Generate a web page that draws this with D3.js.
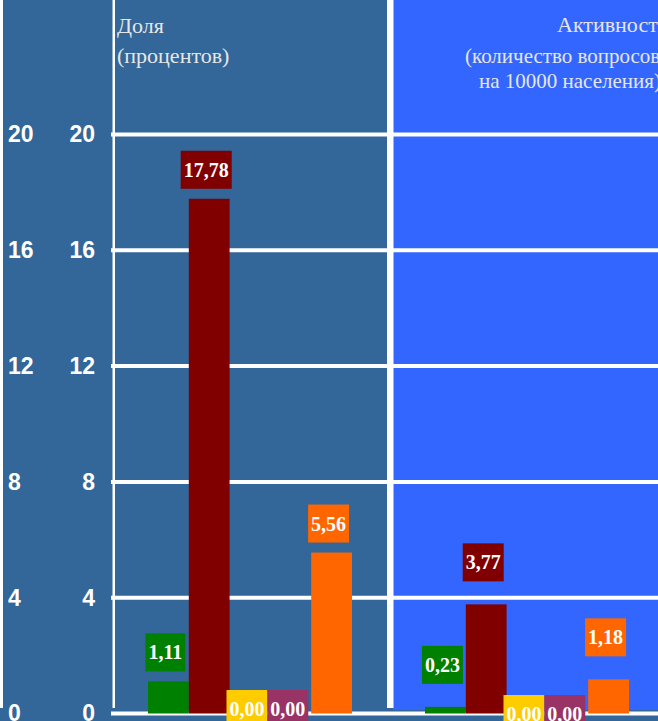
<!DOCTYPE html>
<html>
<head>
<meta charset="utf-8">
<script src="https://cdn.jsdelivr.net/npm/d3@7"></script>
<style>
  html, body { margin: 0; padding: 0; background: #336699; }
  svg { display: block; }
</style>
</head>
<body>
<script>
// ---- data ----
const categories = ["Категория 1", "Категория 2", "Категория 3", "Категория 4", "Категория 5"];
const shareValues = [1.11, 17.78, 0.00, 0.00, 5.56];
const activityValues = [0.23, 3.77, 0.00, 0.00, 1.18];
const yTicks = [0, 4, 8, 12, 16, 20];
const shareTitle = ["Доля", "(процентов)"];
const activityTitle = ["Активность", "(количество вопросов", "на 10000 населения)"];
const barColors = ["#008000", "#800000", "#FFCC00", "#993366", "#FF6600"];

// ---- layout ----
const W = 658, H = 721;
const svg = d3.select("body").append("svg").attr("width", W).attr("height", H);

const y = d3.scaleLinear().domain([0, 20]).range([713.5, 134.5]);
const color = d3.scaleOrdinal().domain(categories).range(barColors);
const locale = d3.formatLocale({decimal: ",", thousands: " ", grouping: [3], currency: ["", ""]});
const fmt = locale.format(".2f");

// backgrounds
svg.append("rect").attr("x", 0).attr("y", 0).attr("width", W).attr("height", H).attr("fill", "#336699");
svg.append("rect").attr("x", 393).attr("y", 0).attr("width", W - 393).attr("height", 710).attr("fill", "#3366FF");

// vertical white lines
svg.append("rect").attr("x", 0).attr("y", 0).attr("width", 3).attr("height", 708).attr("fill", "#fff");
svg.append("rect").attr("x", 112.5).attr("y", 0).attr("width", 2.5).attr("height", 708).attr("fill", "#fff");
svg.append("rect").attr("x", 387).attr("y", 0).attr("width", 6.5).attr("height", 708).attr("fill", "#fff");

// gridlines
svg.append("g").selectAll("line").data(yTicks).join("line")
  .attr("x1", 111).attr("x2", W)
  .attr("y1", d => y(d)).attr("y2", d => y(d))
  .attr("stroke", "#fff").attr("stroke-width", 4);

// panels
const panels = [
  {values: shareValues, range: [148, 352], gap: 10, zeroLift: 23.5},
  {values: activityValues, range: [425, 629], gap: 23, zeroLift: 18.5}
];

panels.forEach(p => {
  const x = d3.scaleBand().domain(categories).range(p.range).padding(0);
  const data = categories.map((c, i) => ({c, v: p.values[i]}));
  const g = svg.append("g");
  g.selectAll("rect.bar").data(data).join("rect").attr("class", "bar")
    .attr("x", d => x(d.c)).attr("width", x.bandwidth())
    .attr("y", d => y(d.v)).attr("height", d => y(0) - y(d.v))
    .attr("fill", d => color(d.c));

  const lab = g.selectAll("g.lab").data(data).join("g").attr("class", "lab");
  lab.each(function(d) {
    const el = d3.select(this);
    const cx = x(d.c) + x.bandwidth() / 2 - 3;
    const t = el.append("text")
      .attr("x", cx).attr("text-anchor", "middle")
      .attr("font-family", "'Liberation Serif', 'Times New Roman', serif")
      .attr("font-weight", "bold").attr("font-size", 20)
      .attr("fill", "#fff").text(fmt(d.v));
    const tw = t.node().getComputedTextLength();
    const boxH = 38;
    const top = d.v === 0 ? y(0) - p.zeroLift : y(d.v) - p.gap - boxH;
    el.insert("rect", "text")
      .attr("x", cx - tw / 2 - 3).attr("y", top)
      .attr("width", tw + 6).attr("height", boxH)
      .attr("fill", color(d.c));
    t.attr("y", top + boxH / 2 + 7);
  });
});

// axes (two columns of tick labels)
const axisA = d3.axisRight(y).tickValues(yTicks).tickSize(0).tickPadding(8).tickFormat(d3.format("d"));
const axisB = d3.axisLeft(y).tickValues(yTicks).tickSize(0).tickPadding(0).tickFormat(d3.format("d"));
[[axisA, 0], [axisB, 95]].forEach(([ax, tx]) => {
  const g = svg.append("g").attr("transform", `translate(${tx},0)`).call(ax);
  g.select(".domain").remove();
  g.selectAll("text")
    .attr("font-family", "'Liberation Sans', Arial, sans-serif")
    .attr("font-weight", "bold").attr("font-size", 23)
    .attr("fill", "#fff");
});

// titles
const titleFont = "'Liberation Serif', 'Times New Roman', serif";
const t1 = svg.append("text").attr("font-family", titleFont).attr("fill", "#e6e6e6").attr("font-size", 22);
t1.selectAll("tspan").data(shareTitle).join("tspan")
  .attr("x", 117).attr("y", (d, i) => 33 + i * 30).text(d => d);

const t2pos = [{x: 557, y: 32, s: 22}, {x: 465, y: 63, s: 21}, {x: 479, y: 88, s: 21}];
svg.append("g").selectAll("text").data(activityTitle).join("text")
  .attr("font-family", titleFont).attr("fill", "#e6e6e6")
  .attr("font-size", (d, i) => t2pos[i].s)
  .attr("x", (d, i) => t2pos[i].x).attr("y", (d, i) => t2pos[i].y)
  .text(d => d);
</script>
</body>
</html>
